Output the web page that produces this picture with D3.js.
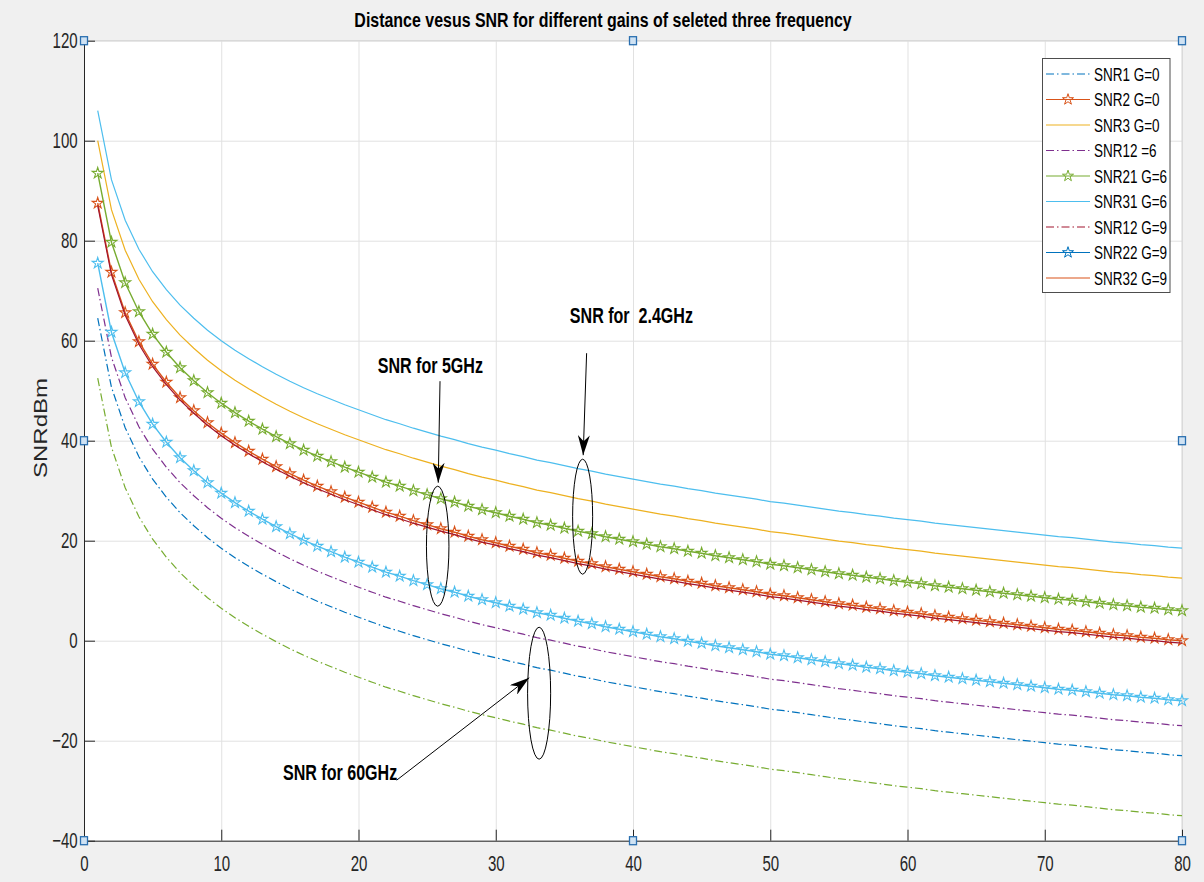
<!DOCTYPE html>
<html>
<head>
<meta charset="utf-8">
<script src="https://cdn.jsdelivr.net/npm/d3@7"></script>
<style>
  body { margin: 0; background: #f0f0f0; }
  svg { display: block; font-family: "Liberation Sans", Arial, sans-serif; }
</style>
</head>
<body>
<svg id="chart"></svg>
<script>
// distance (x) for every series
const distance = [1,2,3,4,5,6,7,8,9,10,11,12,13,14,15,16,17,18,19,20,
  21,22,23,24,25,26,27,28,29,30,31,32,33,34,35,36,37,38,39,40,
  41,42,43,44,45,46,47,48,49,50,51,52,53,54,55,56,57,58,59,60,
  61,62,63,64,65,66,67,68,69,70,71,72,73,74,75,76,77,78,79,80]

// SNR values
const snr1G0 = [64.5,50.7,42.6,36.8,32.3,28.7,25.6,23.0,20.6,18.5,
  16.6,14.9,13.3,11.8,10.4,9.1,7.9,6.8,5.7,4.7,
  3.7,2.7,1.9,1.0,0.2,-0.6,-1.3,-2.1,-2.8,-3.4,
  -4.1,-4.7,-5.4,-5.9,-6.5,-7.1,-7.6,-8.2,-8.7,-9.2,
  -9.7,-10.2,-10.6,-11.1,-11.5,-12.0,-12.4,-12.8,-13.2,-13.7,
  -14.0,-14.4,-14.8,-15.2,-15.6,-15.9,-16.3,-16.6,-17.0,-17.3,
  -17.6,-18.0,-18.3,-18.6,-18.9,-19.2,-19.5,-19.8,-20.1,-20.4,
  -20.7,-20.9,-21.2,-21.5,-21.8,-22.0,-22.3,-22.5,-22.8,-23.0]

const snr2G0 = [87.5,73.7,65.6,59.8,55.3,51.7,48.6,46.0,43.6,41.5,
  39.6,37.9,36.3,34.8,33.4,32.1,30.9,29.8,28.7,27.7,
  26.7,25.7,24.9,24.0,23.2,22.4,21.7,20.9,20.2,19.6,
  18.9,18.3,17.6,17.1,16.5,15.9,15.4,14.8,14.3,13.8,
  13.3,12.8,12.4,11.9,11.5,11.0,10.6,10.2,9.8,9.3,
  9.0,8.6,8.2,7.8,7.4,7.1,6.7,6.4,6.0,5.7,
  5.4,5.0,4.7,4.4,4.1,3.8,3.5,3.2,2.9,2.6,
  2.3,2.1,1.8,1.5,1.2,1.0,0.7,0.5,0.2,0.0]

const snr3G0 = [100,86.2,78.1,72.3,67.8,64.2,61.1,58.5,56.1,54.0,
  52.1,50.4,48.8,47.3,45.9,44.6,43.4,42.3,41.2,40.2,
  39.2,38.2,37.4,36.5,35.7,34.9,34.2,33.4,32.7,32.1,
  31.4,30.8,30.1,29.6,29.0,28.4,27.9,27.3,26.8,26.3,
  25.8,25.3,24.9,24.4,24.0,23.5,23.1,22.7,22.3,21.8,
  21.5,21.1,20.7,20.3,19.9,19.6,19.2,18.9,18.5,18.2,
  17.9,17.5,17.2,16.9,16.6,16.3,16.0,15.7,15.4,15.1,
  14.8,14.6,14.3,14.0,13.7,13.5,13.2,13.0,12.7,12.5]

const snr12G6 = [70.5,56.7,48.6,42.8,38.3,34.7,31.6,29.0,26.6,24.5,
  22.6,20.9,19.3,17.8,16.4,15.1,13.9,12.8,11.7,10.7,
  9.7,8.7,7.9,7.0,6.2,5.4,4.7,3.9,3.2,2.6,
  1.9,1.3,0.6,0.1,-0.5,-1.1,-1.6,-2.2,-2.7,-3.2,
  -3.7,-4.2,-4.6,-5.1,-5.5,-6.0,-6.4,-6.8,-7.2,-7.7,
  -8.0,-8.4,-8.8,-9.2,-9.6,-9.9,-10.3,-10.6,-11.0,-11.3,
  -11.6,-12.0,-12.3,-12.6,-12.9,-13.2,-13.5,-13.8,-14.1,-14.4,
  -14.7,-14.9,-15.2,-15.5,-15.8,-16.0,-16.3,-16.5,-16.8,-17.0]

const snr21G6 = [93.5,79.7,71.6,65.8,61.3,57.7,54.6,52.0,49.6,47.5,
  45.6,43.9,42.3,40.8,39.4,38.1,36.9,35.8,34.7,33.7,
  32.7,31.7,30.9,30.0,29.2,28.4,27.7,26.9,26.2,25.6,
  24.9,24.3,23.6,23.1,22.5,21.9,21.4,20.8,20.3,19.8,
  19.3,18.8,18.4,17.9,17.5,17.0,16.6,16.2,15.8,15.3,
  15.0,14.6,14.2,13.8,13.4,13.1,12.7,12.4,12.0,11.7,
  11.4,11.0,10.7,10.4,10.1,9.8,9.5,9.2,8.9,8.6,
  8.3,8.1,7.8,7.5,7.2,7.0,6.7,6.5,6.2,6.0]

const snr31G6 = [106,92.2,84.1,78.3,73.8,70.2,67.1,64.5,62.1,60.0,
  58.1,56.4,54.8,53.3,51.9,50.6,49.4,48.3,47.2,46.2,
  45.2,44.2,43.4,42.5,41.7,40.9,40.2,39.4,38.7,38.1,
  37.4,36.8,36.1,35.6,35.0,34.4,33.9,33.3,32.8,32.3,
  31.8,31.3,30.9,30.4,30.0,29.5,29.1,28.7,28.3,27.8,
  27.5,27.1,26.7,26.3,25.9,25.6,25.2,24.9,24.5,24.2,
  23.9,23.5,23.2,22.9,22.6,22.3,22.0,21.7,21.4,21.1,
  20.8,20.6,20.3,20.0,19.7,19.5,19.2,19.0,18.7,18.5]

const snr12G9 = [52.5,38.7,30.6,24.8,20.3,16.7,13.6,11.0,8.6,6.5,
  4.6,2.9,1.3,-0.2,-1.6,-2.9,-4.1,-5.2,-6.3,-7.3,
  -8.3,-9.3,-10.1,-11.0,-11.8,-12.6,-13.3,-14.1,-14.8,-15.4,
  -16.1,-16.7,-17.4,-17.9,-18.5,-19.1,-19.6,-20.2,-20.7,-21.2,
  -21.7,-22.2,-22.6,-23.1,-23.5,-24.0,-24.4,-24.8,-25.2,-25.7,
  -26.0,-26.4,-26.8,-27.2,-27.6,-27.9,-28.3,-28.6,-29.0,-29.3,
  -29.6,-30.0,-30.3,-30.6,-30.9,-31.2,-31.5,-31.8,-32.1,-32.4,
  -32.7,-32.9,-33.2,-33.5,-33.8,-34.0,-34.3,-34.5,-34.8,-35.0]

const snr22G9 = [75.5,61.7,53.6,47.8,43.3,39.7,36.6,34.0,31.6,29.5,
  27.6,25.9,24.3,22.8,21.4,20.1,18.9,17.8,16.7,15.7,
  14.7,13.7,12.9,12.0,11.2,10.4,9.7,8.9,8.2,7.6,
  6.9,6.3,5.6,5.1,4.5,3.9,3.4,2.8,2.3,1.8,
  1.3,0.8,0.4,-0.1,-0.5,-1.0,-1.4,-1.8,-2.2,-2.7,
  -3.0,-3.4,-3.8,-4.2,-4.6,-4.9,-5.3,-5.6,-6.0,-6.3,
  -6.6,-7.0,-7.3,-7.6,-7.9,-8.2,-8.5,-8.8,-9.1,-9.4,
  -9.7,-9.9,-10.2,-10.5,-10.8,-11.0,-11.3,-11.5,-11.8,-12.0]

const snr32G9 = [87.0,73.2,65.1,59.3,54.8,51.2,48.1,45.5,43.1,41.0,
  39.1,37.4,35.8,34.3,32.9,31.6,30.4,29.3,28.2,27.2,
  26.2,25.2,24.4,23.5,22.7,21.9,21.2,20.4,19.7,19.1,
  18.4,17.8,17.1,16.6,16.0,15.4,14.9,14.3,13.8,13.3,
  12.8,12.3,11.9,11.4,11.0,10.5,10.1,9.7,9.3,8.8,
  8.5,8.1,7.7,7.3,6.9,6.6,6.2,5.9,5.5,5.2,
  4.9,4.5,4.2,3.9,3.6,3.3,3.0,2.7,2.4,2.1,
  1.8,1.6,1.3,1.0,0.7,0.5,0.2,0.0,-0.3,-0.5]

const seriesNames = ['SNR1 G=0', 'SNR2 G=0', 'SNR3 G=0', 'SNR12 =6', 'SNR21 G=6',
  'SNR31 G=6', 'SNR12 G=9', 'SNR22 G=9', 'SNR32 G=9']
const seriesValues = [snr1G0, snr2G0, snr3G0, snr12G6, snr21G6, snr31G6, snr12G9, snr22G9, snr32G9]

const xTicks = [0, 10, 20, 30, 40, 50, 60, 70, 80]
const yTicks = [-40, -20, 0, 20, 40, 60, 80, 100, 120]

// styles
const lineColors = ['#0072BD', '#D95319', '#EDB120', '#7E2F8E', '#77AC30', '#4DBEEE', '#77AC30', '#4DBEEE', '#A2142F']
const legendColors = ['#0072BD', '#D95319', '#EDB120', '#7E2F8E', '#77AC30', '#4DBEEE', '#A2142F', '#0072BD', '#D95319']
const lineDash = ['dashdot', 'solid', 'solid', 'dashdot', 'solid', 'solid', 'dashdot', 'solid', 'solid']
const hasStar = [false, true, false, false, true, false, false, true, false]

// annotations (data coordinates)
const annoText = ['SNR for 5GHz', 'SNR for  2.4GHz', 'SNR for 60GHz']
const annoTextX = [21.4, 35.4, 14.5]
const annoTextY = [53.6, 63.6, -27.9]
const arrowFrom = [[25.94, 51.9], [36.62, 57.5], [22.78, -27.9]]
const arrowTo = [[25.81, 31.6], [36.37, 37.1], [32.44, -7.4]]
const ellipses = [[25.77, 18.9, 0.82, 12], [36.33, 24.8, 0.73, 11.5], [33.16, -10.5, 0.84, 13.2]]

// selection handles on the axes box
const handleX = [0, 40, 80, 0, 80, 0, 40, 80]
const handleY = [120, 120, 120, 40, 40, -40, -40, -40]

let width = 1204
let height = 882

const svg = d3.select('#chart')
  .attr('width', width)
  .attr('height', height)

svg.append('rect')
  .attr('width', width)
  .attr('height', height)
  .attr('fill', '#f0f0f0')

const x = d3.scaleLinear().domain([0, 80]).range([84, 1182])
const y = d3.scaleLinear().domain([-40, 120]).range([840.7, 40.7])

// plot area
svg.append('rect')
  .attr('x', x(0))
  .attr('y', y(120))
  .attr('width', x(80) - x(0))
  .attr('height', y(-40) - y(120))
  .attr('fill', '#ffffff')

// grid
svg.append('g')
  .attr('transform', `translate(0,${y(-40)})`)
  .call(d3.axisBottom(x).tickValues(xTicks).tickSize(-(y(-40) - y(120))).tickFormat(''))
  .call(g => {
    g.select('.domain').remove()
    g.selectAll('line').attr('stroke', '#e1e1e1')
  })

svg.append('g')
  .attr('transform', `translate(${x(0)},0)`)
  .call(d3.axisLeft(y).tickValues(yTicks).tickSize(-(x(80) - x(0))).tickFormat(''))
  .call(g => {
    g.select('.domain').remove()
    g.selectAll('line').attr('stroke', '#e1e1e1')
  })

// top and right box edges
svg.append('path')
  .attr('d', `M${x(0)},${y(120)}H${x(80)}V${y(-40)}`)
  .attr('fill', 'none')
  .attr('stroke', '#d4d4d4')

// lines
const line = d3.line()
  .x((d, i) => x(distance[i]))
  .y(d => y(d))

const star = d3.symbol(d3.symbolStar, 38)

seriesValues.forEach((vals, k) => {
  const g = svg.append('g').attr('class', 'series')
  g.append('path')
    .datum(vals)
    .attr('d', line)
    .attr('fill', 'none')
    .attr('stroke', lineColors[k])
    .attr('stroke-width', hasStar[k] ? 1.4 : 1.2)
    .attr('stroke-dasharray', lineDash[k] === 'dashdot' ? '8,3,1.5,3' : null)

  if (hasStar[k]) {
    g.selectAll('path.star')
      .data(vals)
      .join('path')
      .attr('class', 'star')
      .attr('d', star)
      .attr('transform', (d, i) => `translate(${x(distance[i])},${y(d)})`)
      .attr('fill', 'none')
      .attr('stroke', lineColors[k])
      .attr('stroke-width', 1.1)
  }
})

// axes
const xAxis = svg.append('g')
  .attr('transform', `translate(0,${y(-40)})`)
  .call(d3.axisBottom(x).tickValues(xTicks).tickSizeInner(-11).tickSizeOuter(0).tickPadding(15))

const yAxis = svg.append('g')
  .attr('transform', `translate(${x(0)},0)`)
  .call(d3.axisLeft(y).tickValues(yTicks).tickSizeInner(-11).tickSizeOuter(0).tickPadding(9))

;[xAxis, yAxis].forEach(a => {
  a.select('.domain').attr('stroke', '#262626')
  a.selectAll('line').attr('stroke', '#262626')
  a.selectAll('text')
    .attr('fill', '#262626')
    .attr('transform', 'scale(0.7,1)')
    .style('font-size', '21.5px')
    .style('font-family', '"Liberation Sans", Arial, sans-serif')
})

// y label
svg.append('text')
  .attr('transform', 'translate(47,428) scale(0.8,1) rotate(-90)')
  .attr('text-anchor', 'middle')
  .style('font-size', '24px')
  .attr('fill', '#262626')
  .text('SNRdBm')

// title
svg.append('text')
  .attr('transform', 'translate(603,27) scale(0.76,1)')
  .attr('text-anchor', 'middle')
  .style('font-size', '21px')
  .style('font-weight', 'bold')
  .attr('fill', '#000')
  .text('Distance vesus SNR for different gains of seleted three frequency')

// handles
svg.selectAll('rect.handle')
  .data(handleX)
  .join('rect')
  .attr('class', 'handle')
  .attr('x', (d, i) => x(d) - 3.5)
  .attr('y', (d, i) => y(handleY[i]) - 4)
  .attr('width', 7)
  .attr('height', 8)
  .attr('fill', '#cfe2f3')
  .attr('stroke', '#2a6fb0')
  .attr('stroke-width', 1.3)

// annotations
svg.append('defs').append('marker')
  .attr('id', 'arrowhead')
  .attr('viewBox', '0 0 20 12')
  .attr('markerUnits', 'userSpaceOnUse')
  .attr('markerWidth', 20)
  .attr('markerHeight', 12)
  .attr('refX', 20)
  .attr('refY', 6)
  .attr('orient', 'auto')
  .append('path')
  .attr('d', 'M0,0L20,6L0,12L6,6Z')
  .attr('fill', '#000')

svg.selectAll('ellipse.anno')
  .data(ellipses)
  .join('ellipse')
  .attr('class', 'anno')
  .attr('cx', d => x(d[0]))
  .attr('cy', d => y(d[1]))
  .attr('rx', d => x(d[2]) - x(0))
  .attr('ry', d => y(0) - y(d[3]))
  .attr('fill', 'none')
  .attr('stroke', '#000')
  .attr('stroke-width', 1)

svg.selectAll('line.anno')
  .data(arrowFrom)
  .join('line')
  .attr('class', 'anno')
  .attr('x1', d => x(d[0]))
  .attr('y1', d => y(d[1]))
  .attr('x2', (d, i) => x(arrowTo[i][0]))
  .attr('y2', (d, i) => y(arrowTo[i][1]))
  .attr('stroke', '#000')
  .attr('stroke-width', 1)
  .attr('marker-end', 'url(#arrowhead)')

svg.selectAll('text.anno')
  .data(annoText)
  .join('text')
  .attr('class', 'anno')
  .attr('transform', (d, i) => `translate(${x(annoTextX[i])},${y(annoTextY[i])}) scale(0.73,1)`)
  .style('font-size', '22px')
  .style('font-weight', 'bold')
  .style('white-space', 'pre')
  .attr('fill', '#000')
  .text(d => d)

// legend
const legend = svg.append('g').attr('id', 'legend')
legend.append('rect')
  .attr('x', 1042.5)
  .attr('y', 58.5)
  .attr('width', 127.5)
  .attr('height', 234)
  .attr('fill', '#fff')
  .attr('stroke', '#4d4d4d')
  .attr('stroke-width', 1)

const legendItem = legend.selectAll('.legend-item')
  .data(seriesNames)
  .join('g')
  .attr('class', 'legend-item')
  .attr('transform', (d, i) => `translate(0,${74 + i * 25.5})`)

legendItem.append('line')
  .attr('x1', 1046)
  .attr('x2', 1090)
  .attr('stroke', (d, i) => legendColors[i])
  .attr('stroke-width', 1.2)
  .attr('stroke-dasharray', (d, i) => lineDash[i] === 'dashdot' ? '8,3,1.5,3' : null)

legendItem.filter((d, i) => hasStar[i])
  .append('path')
  .attr('d', star)
  .attr('transform', 'translate(1068,0)')
  .attr('fill', 'none')
  .attr('stroke', d => legendColors[seriesNames.indexOf(d)])

legendItem.append('text')
  .attr('transform', 'translate(1094,6.5) scale(0.75,1)')
  .style('font-size', '18px')
  .attr('fill', '#000')
  .text(d => d)
</script>
</body>
</html>
